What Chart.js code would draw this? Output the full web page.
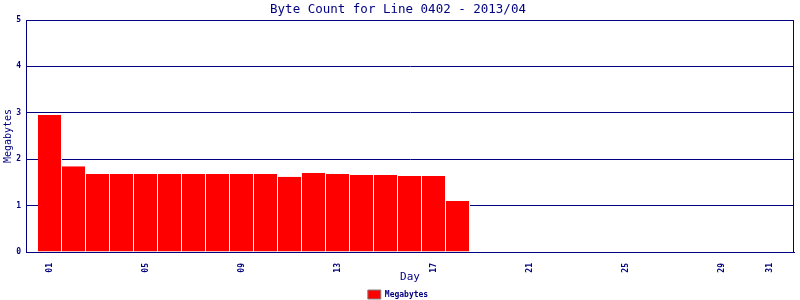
<!DOCTYPE html>
<html lang="en">
<head>
<meta charset="utf-8"/>
<title>Byte Count for Line 0402</title>
<script src="https://cdn.jsdelivr.net/npm/chart.js"></script>
<style>
  html, body { margin: 0; padding: 0; background: #fff; }
  #wrap { width: 800px; height: 300px; }
</style>
</head>
<body>
<div id="wrap"><canvas id="byteChart" width="800" height="300"></canvas></div>
<script>
// day of month and megabytes per day (April 2013, line 0402)
const days = [1, 2, 3, 4, 5, 6, 7, 8, 9, 10, 11, 12, 13, 14, 15, 16, 17, 18];
const megabytes = [2.95, 1.85, 1.68, 1.68, 1.68, 1.68, 1.68, 1.68, 1.68, 1.68, 1.62, 1.70, 1.68, 1.66, 1.66, 1.64, 1.64, 1.10];
const tickDays = [1, 5, 9, 13, 17, 21, 25, 29, 31];
const yTicks = [0, 1, 2, 3, 4, 5];

const navy = '#000080';
const mono = 'DejaVu Sans Mono, monospace';

// box round the plot area, and a slimmer legend strip
const frame = {
  id: 'frame',
  beforeUpdate(chart) {
    const lg = chart.legend;
    if (lg && !lg._slim) {
      const fit = lg.fit.bind(lg);
      lg.fit = function () { fit(); this.height = 14; this.minSize && (this.minSize.height = 14); };
      lg._slim = true;
    }
  },
  afterDraw(chart) {
    const a = chart.chartArea, ctx = chart.ctx;
    ctx.save();
    ctx.strokeStyle = navy;
    ctx.lineWidth = 1;
    ctx.strokeRect(Math.round(a.left) + 0.5, Math.round(a.top) + 0.5,
      Math.round(a.right - a.left) - 1, Math.round(a.bottom - a.top));
    ctx.restore();
  }
};

new Chart(document.getElementById('byteChart'), {
  type: 'bar',
  data: {
    datasets: [{
      label: 'Megabytes',
      data: days.map((d, i) => ({ x: d, y: megabytes[i] })),
      backgroundColor: '#ff0000',
      borderColor: '#ffffff',
      borderWidth: { left: 0, right: 1, top: 0, bottom: 0 },
      inflateAmount: 0,
      barThickness: 24
    }]
  },
  options: {
    responsive: false,
    animation: false,
    devicePixelRatio: 1,
    layout: { padding: { left: 2, right: 6, top: 0, bottom: 0 } },
    plugins: {
      title: {
        display: true,
        text: 'Byte Count for Line 0402 - 2013/04',
        color: navy,
        font: { family: mono, size: 12.5, weight: 'normal', lineHeight: 1 },
        padding: { top: 3, bottom: 4.5 }
      },
      legend: {
        position: 'bottom',
        labels: {
          color: navy,
          font: { family: mono, size: 8, weight: 'bold' },
          boxWidth: 13,
          boxHeight: 9,
          padding: 4,
          generateLabels: chart => [{
            text: 'Megabytes',
            fillStyle: '#ff0000',
            strokeStyle: '#808080',
            lineWidth: 1,
            fontColor: navy,
            datasetIndex: 0
          }]
        }
      },
      tooltip: { enabled: false }
    },
    scales: {
      x: {
        type: 'linear',
        min: 0,
        max: 32,
        offset: false,
        afterBuildTicks: s => { s.ticks = tickDays.map(v => ({ value: v })); },
        afterFit: s => { s.height = 34; },
        grid: { display: false },
        border: { color: navy },
        ticks: {
          color: navy,
          font: { family: mono, size: 8, weight: 'bold' },
          minRotation: 90,
          maxRotation: 90,
          autoSkip: false,
          padding: 3,
          callback: v => String(v).padStart(2, '0')
        },
        title: {
          display: true,
          text: 'Day',
          color: navy,
          font: { family: mono, size: 11 },
          padding: { top: 0, bottom: 2 }
        }
      },
      y: {
        min: 0,
        max: 5,
        afterBuildTicks: s => { s.ticks = yTicks.map(v => ({ value: v })); },
        afterFit: s => { s.width = 24; },
        grid: { color: navy, drawTicks: false, lineWidth: 1 },
        border: { color: navy },
        ticks: {
          color: navy,
          font: { family: mono, size: 8, weight: 'bold' },
          padding: 5
        },
        title: {
          display: true,
          text: 'Megabytes',
          color: navy,
          font: { family: mono, size: 10 },
          padding: { top: 0, bottom: 0 }
        }
      }
    }
  },
  plugins: [frame]
});
</script>
</body>
</html>
